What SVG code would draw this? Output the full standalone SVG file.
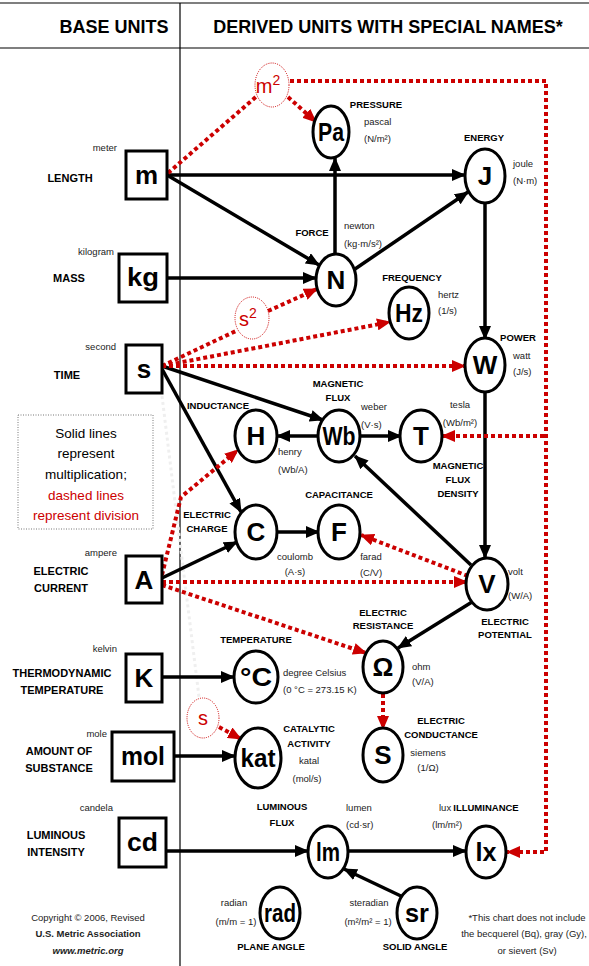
<svg xmlns="http://www.w3.org/2000/svg" width="589" height="966" viewBox="0 0 589 966">
<style>
.bg{fill:#fff}
.rule{stroke:#000;stroke-width:1.2;fill:none}
.box{fill:#fff;stroke:#000;stroke-width:3}
.node{fill:#fff;stroke:#000;stroke-width:3}
.dnode{fill:none;stroke:#c00;stroke-width:1;stroke-dasharray:1 1.2}
.sym{font-family:"Liberation Sans",Arial,sans-serif;font-weight:bold;font-size:26px;text-anchor:middle;fill:#000}
.rsym{font-family:"Liberation Sans",Arial,sans-serif;font-size:20px;text-anchor:middle;fill:#c00}
.hd{font-family:"Liberation Sans",Arial,sans-serif;font-weight:bold;font-size:18px;text-anchor:middle;fill:#000}
.base{font-family:"Liberation Sans",Arial,sans-serif;font-weight:bold;font-size:11px;text-anchor:middle;fill:#000}
.cap{font-family:"Liberation Sans",Arial,sans-serif;font-weight:bold;font-size:9.5px;text-anchor:middle;fill:#000}
.sm{font-family:"Liberation Sans",Arial,sans-serif;font-size:9.5px;fill:#222}
.smr{font-family:"Liberation Sans",Arial,sans-serif;font-size:9.5px;fill:#222;text-anchor:end}
.smc{font-family:"Liberation Sans",Arial,sans-serif;font-size:9.5px;fill:#222;text-anchor:middle}
.leg{font-family:"Liberation Sans",Arial,sans-serif;font-size:13.5px;text-anchor:middle;fill:#000}
.legr{fill:#c00}
.solid{stroke:#000;stroke-width:3.5;fill:none}
.sa{marker-end:url(#ah)}
.dash{stroke:#c00;stroke-width:4;stroke-dasharray:4 3;fill:none}
.da{marker-end:url(#rh)}
.faint{stroke:#efefef;stroke-width:3;stroke-dasharray:3 3;fill:none}
</style>
<defs>
<marker id="ah" markerUnits="userSpaceOnUse" markerWidth="14" markerHeight="12" refX="13" refY="6" orient="auto"><path d="M0,0 L14,6 L0,12 z" fill="#000"/></marker>
<marker id="rh" markerUnits="userSpaceOnUse" markerWidth="14" markerHeight="12" refX="13" refY="6" orient="auto"><path d="M0,0 L14,6 L0,12 z" fill="#c00"/></marker>
</defs>
<rect class="bg" x="0" y="0" width="589" height="966"/>
<g id="frame">
<line class="rule" x1="0" y1="3" x2="589" y2="3"/>
<line class="rule" x1="0" y1="48" x2="589" y2="48"/>
<line class="rule" x1="180" y1="3" x2="180" y2="966"/>
<text class="hd" x="114" y="33">BASE UNITS</text>
<text class="hd" x="388" y="33">DERIVED UNITS WITH SPECIAL NAMES*</text>
</g>
<g id="connectors">
<line class="faint" x1="162" y1="396" x2="199" y2="697"/>
<line class="solid sa" x1="167" y1="175" x2="465" y2="175"/>
<line class="solid sa" x1="167" y1="175" x2="319" y2="265"/>
<line class="solid sa" x1="335" y1="254" x2="335" y2="158"/>
<line class="solid sa" x1="355" y1="269" x2="468" y2="192"/>
<line class="solid sa" x1="167" y1="278" x2="316" y2="278"/>
<line class="solid sa" x1="485" y1="203" x2="485" y2="339"/>
<line class="solid sa" x1="485" y1="392" x2="485" y2="558"/>
<line class="solid sa" x1="162" y1="366" x2="323" y2="420"/>
<line class="solid sa" x1="162" y1="369" x2="241" y2="512"/>
<line class="solid sa" x1="319" y1="436" x2="277" y2="436"/>
<line class="solid sa" x1="359" y1="436" x2="401" y2="436"/>
<line class="solid sa" x1="471" y1="565" x2="355" y2="456"/>
<line class="solid sa" x1="162" y1="578" x2="237" y2="542"/>
<line class="solid sa" x1="277" y1="532" x2="319" y2="532"/>
<line class="solid sa" x1="472" y1="602" x2="398" y2="648"/>
<line class="solid sa" x1="162" y1="677" x2="234" y2="677"/>
<line class="solid sa" x1="174" y1="756" x2="235" y2="756"/>
<line class="solid sa" x1="166" y1="851" x2="308" y2="851"/>
<line class="solid sa" x1="348" y1="851" x2="466" y2="851"/>
<line class="solid sa" x1="403" y1="897" x2="344" y2="869"/>
<line class="dash" x1="168" y1="173" x2="257" y2="96"/>
<line class="dash da" x1="288" y1="97" x2="316" y2="122"/>
<polyline class="dash da" points="290,81 546,81 546,852 507,852"/>
<line class="dash da" x1="544" y1="436" x2="442" y2="436"/>
<line class="dash" x1="162" y1="366" x2="238" y2="330"/>
<line class="dash da" x1="268" y1="311" x2="317" y2="289"/>
<line class="dash da" x1="162" y1="366" x2="390" y2="322"/>
<line class="dash da" x1="162" y1="366" x2="465" y2="366"/>
<polyline class="dash da" points="162,575 181,497 238,450"/>
<line class="dash da" x1="162" y1="582" x2="467" y2="582"/>
<line class="dash da" x1="162" y1="585" x2="366" y2="653"/>
<line class="dash da" x1="468" y1="576" x2="361" y2="535"/>
<line class="dash da" x1="383" y1="694" x2="383" y2="729"/>
<line class="dash da" x1="219" y1="727" x2="241" y2="739"/>
</g>
<g id="legend">
<rect x="18" y="415" width="135" height="114" fill="#fff" stroke="#777" stroke-width="1" stroke-dasharray="1 1.5"/>
<text class="leg" x="86" y="438">Solid lines</text>
<text class="leg" x="86" y="458">represent</text>
<text class="leg" x="86" y="479">multiplication;</text>
<text class="leg legr" x="86" y="500">dashed lines</text>
<text class="leg legr" x="86" y="520">represent division</text>
</g>
<g id="base-m"><rect class="box" x="126" y="151" width="41" height="48"/><text class="sym" x="146.5" y="184">m</text><text class="smr" x="117" y="151">meter</text><text class="base" x="70" y="182">LENGTH</text></g>
<g id="base-kg"><rect class="box" x="119" y="254" width="48" height="48"/><text class="sym" x="143" y="286" textLength="32" lengthAdjust="spacingAndGlyphs">kg</text><text class="smr" x="114" y="255">kilogram</text><text class="base" x="69" y="282">MASS</text></g>
<g id="base-s"><rect class="box" x="126" y="345" width="36" height="48"/><text class="sym" x="144" y="378">s</text><text class="smr" x="116" y="350">second</text><text class="base" x="67" y="379">TIME</text></g>
<g id="base-A"><rect class="box" x="126" y="556" width="36" height="47"/><text class="sym" x="144" y="589">A</text><text class="smr" x="117" y="556">ampere</text><text class="base" x="61" y="575">ELECTRIC</text><text class="base" x="61" y="592">CURRENT</text></g>
<g id="base-K"><rect class="box" x="126" y="654" width="36" height="48"/><text class="sym" x="144" y="687">K</text><text class="smr" x="117" y="652">kelvin</text><text class="base" x="62" y="677">THERMODYNAMIC</text><text class="base" x="62" y="694">TEMPERATURE</text></g>
<g id="base-mol"><rect class="box" x="112" y="732" width="62" height="49"/><text class="sym" x="143" y="765" textLength="44" lengthAdjust="spacingAndGlyphs">mol</text><text class="smr" x="107" y="737">mole</text><text class="base" x="59" y="755">AMOUNT OF</text><text class="base" x="59" y="772">SUBSTANCE</text></g>
<g id="base-cd"><rect class="box" x="119" y="818" width="47" height="49"/><text class="sym" x="142.5" y="851" textLength="31" lengthAdjust="spacingAndGlyphs">cd</text><text class="smr" x="113" y="811">candela</text><text class="base" x="56" y="839">LUMINOUS</text><text class="base" x="56" y="856">INTENSITY</text></g>
<g id="m2"><ellipse class="dnode" cx="272" cy="85" rx="17" ry="22"/><text class="rsym" x="268" y="93">m<tspan dy="-8" font-size="14">2</tspan></text></g>
<g id="s2"><ellipse class="dnode" cx="252" cy="318" rx="17" ry="21"/><text class="rsym" x="248" y="326">s<tspan dy="-8" font-size="14">2</tspan></text></g>
<g id="s-kat"><ellipse class="dnode" cx="203" cy="718" rx="16" ry="20"/><text class="rsym" x="203" y="725" font-size="18">s</text></g>
<g id="Pa"><ellipse class="node" cx="331" cy="132" rx="18" ry="26"/><text class="sym" x="331" y="141" textLength="26" lengthAdjust="spacingAndGlyphs">Pa</text><text class="cap" x="376" y="108">PRESSURE</text><text class="sm" x="364" y="125">pascal</text><text class="sm" x="364" y="142">(N/m²)</text></g>
<g id="J"><ellipse class="node" cx="485" cy="176" rx="20" ry="27"/><text class="sym" x="485" y="185">J</text><text class="cap" x="484" y="141">ENERGY</text><text class="sm" x="513" y="167">joule</text><text class="sm" x="513" y="184">(N·m)</text></g>
<g id="N"><ellipse class="node" cx="336" cy="280" rx="20" ry="26"/><text class="sym" x="336" y="289">N</text><text class="cap" x="312" y="236">FORCE</text><text class="sm" x="344" y="229">newton</text><text class="sm" x="344" y="247">(kg·m/s²)</text></g>
<g id="Hz"><ellipse class="node" cx="409" cy="313" rx="20" ry="26"/><text class="sym" x="409" y="322" textLength="28" lengthAdjust="spacingAndGlyphs">Hz</text><text class="cap" x="412" y="281">FREQUENCY</text><text class="sm" x="438" y="298">hertz</text><text class="sm" x="438" y="314">(1/s)</text></g>
<g id="W"><ellipse class="node" cx="485" cy="365" rx="20" ry="27"/><text class="sym" x="485" y="374">W</text><text class="cap" x="518" y="341">POWER</text><text class="sm" x="513" y="359">watt</text><text class="sm" x="513" y="375">(J/s)</text></g>
<g id="H"><ellipse class="node" cx="256" cy="436" rx="21" ry="26"/><text class="sym" x="256" y="445">H</text><text class="cap" x="218" y="409">INDUCTANCE</text><text class="sm" x="278" y="455">henry</text><text class="sm" x="278" y="473">(Wb/A)</text></g>
<g id="Wb"><ellipse class="node" cx="339" cy="436" rx="21" ry="26"/><text class="sym" x="339" y="445" textLength="33" lengthAdjust="spacingAndGlyphs">Wb</text><text class="cap" x="338" y="387">MAGNETIC</text><text class="cap" x="338" y="401">FLUX</text><text class="sm" x="361" y="410">weber</text><text class="sm" x="361" y="428">(V·s)</text></g>
<g id="T"><ellipse class="node" cx="421" cy="436" rx="21" ry="26"/><text class="sym" x="421" y="445">T</text><text class="smc" x="460" y="408">tesla</text><text class="smc" x="460" y="426">(Wb/m²)</text><text class="cap" x="458" y="469">MAGNETIC</text><text class="cap" x="458" y="483">FLUX</text><text class="cap" x="458" y="497">DENSITY</text></g>
<g id="C"><ellipse class="node" cx="256" cy="532" rx="21" ry="27"/><text class="sym" x="256" y="541">C</text><text class="cap" x="207" y="518">ELECTRIC</text><text class="cap" x="207" y="532">CHARGE</text><text class="smc" x="295" y="560">coulomb</text><text class="smc" x="295" y="575">(A·s)</text></g>
<g id="F"><ellipse class="node" cx="339" cy="532" rx="21" ry="27"/><text class="sym" x="339" y="541">F</text><text class="cap" x="339" y="498">CAPACITANCE</text><text class="smc" x="371" y="560">farad</text><text class="smc" x="371" y="576">(C/V)</text></g>
<g id="V"><ellipse class="node" cx="487" cy="584" rx="21" ry="26"/><text class="sym" x="487" y="593">V</text><text class="sm" x="508" y="575">volt</text><text class="sm" x="508" y="599">(W/A)</text><text class="cap" x="505" y="625">ELECTRIC</text><text class="cap" x="505" y="638">POTENTIAL</text></g>
<g id="Ohm"><ellipse class="node" cx="383" cy="667" rx="20" ry="26"/><text class="sym" x="383" y="676">Ω</text><text class="cap" x="383" y="616">ELECTRIC</text><text class="cap" x="383" y="629">RESISTANCE</text><text class="sm" x="412" y="670">ohm</text><text class="sm" x="412" y="685">(V/A)</text></g>
<g id="S"><ellipse class="node" cx="383" cy="755" rx="20" ry="27"/><text class="sym" x="383" y="764">S</text><text class="cap" x="441" y="724">ELECTRIC</text><text class="cap" x="441" y="738">CONDUCTANCE</text><text class="smc" x="428" y="756">siemens</text><text class="smc" x="428" y="771">(1/Ω)</text></g>
<g id="degC"><ellipse class="node" cx="256" cy="677" rx="22" ry="26"/><text class="sym" x="256" y="686" textLength="32" lengthAdjust="spacingAndGlyphs">°C</text><text class="cap" x="256" y="643">TEMPERATURE</text><text class="sm" x="283" y="676">degree Celsius</text><text class="sm" x="283" y="693">(0 °C = 273.15 K)</text></g>
<g id="kat"><ellipse class="node" cx="258" cy="758" rx="23" ry="30"/><text class="sym" x="258" y="767" textLength="35" lengthAdjust="spacingAndGlyphs">kat</text><text class="cap" x="309" y="732">CATALYTIC</text><text class="cap" x="309" y="747">ACTIVITY</text><text class="smc" x="309" y="764">katal</text><text class="smc" x="307" y="782">(mol/s)</text></g>
<g id="lm"><ellipse class="node" cx="328" cy="852" rx="20" ry="26"/><text class="sym" x="328" y="861" textLength="24" lengthAdjust="spacingAndGlyphs">lm</text><text class="cap" x="282" y="810">LUMINOUS</text><text class="cap" x="282" y="826">FLUX</text><text class="sm" x="346" y="811">lumen</text><text class="sm" x="346" y="828">(cd·sr)</text></g>
<g id="lx"><ellipse class="node" cx="486" cy="852" rx="20" ry="26"/><text class="sym" x="486" y="861" textLength="21" lengthAdjust="spacingAndGlyphs">lx</text><text class="sm" x="439" y="811">lux</text><text class="cap" x="486" y="811">ILLUMINANCE</text><text class="sm" x="432" y="828">(lm/m²)</text></g>
<g id="rad"><ellipse class="node" cx="280" cy="913" rx="20" ry="26"/><text class="sym" x="280" y="922" textLength="32" lengthAdjust="spacingAndGlyphs">rad</text><text class="smc" x="234" y="906">radian</text><text class="smc" x="236" y="925">(m/m = 1)</text><text class="cap" x="271" y="950">PLANE ANGLE</text></g>
<g id="sr"><ellipse class="node" cx="417" cy="913" rx="20" ry="26"/><text class="sym" x="417" y="922" textLength="24" lengthAdjust="spacingAndGlyphs">sr</text><text class="smc" x="369" y="906">steradian</text><text class="smc" x="368" y="925">(m²/m² = 1)</text><text class="cap" x="415" y="950">SOLID ANGLE</text></g>
<g id="footer">
<text class="smc" x="88" y="921">Copyright © 2006, Revised</text>
<text class="smc" x="88" y="937" font-weight="bold" fill="#000">U.S. Metric Association</text>
<text class="smc" x="88" y="954" font-weight="bold" font-style="italic" fill="#000">www.metric.org</text>
<text class="smc" x="527" y="921">*This chart does not include</text>
<text class="smc" x="524" y="937">the becquerel (Bq), gray (Gy),</text>
<text class="smc" x="527" y="954">or sievert (Sv)</text>
</g>
</svg>
